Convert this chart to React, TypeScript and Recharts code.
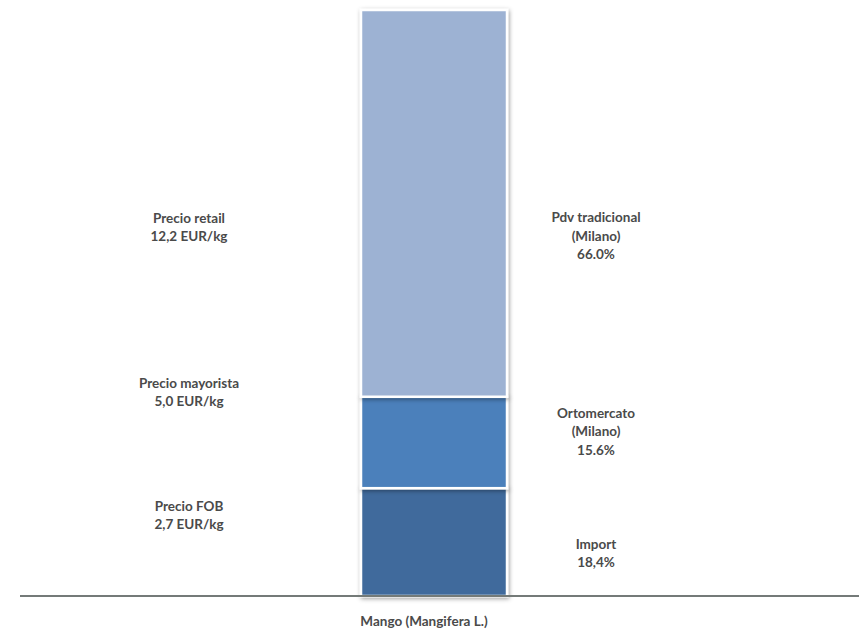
import React from 'react';
import { BarChart, Bar, XAxis, YAxis, LabelList } from 'recharts';

const categories = ['Mango (Mangifera L.)'];
const importShare = [18.4];
const ortomercatoShare = [15.6];
const pdvShare = [66.0];

const seriesNames = [['Import'], ['Ortomercato', '(Milano)'], ['Pdv tradicional', '(Milano)']];
const shareLabels = ['18,4%', '15.6%', '66.0%'];
const priceNames = ['Precio FOB', 'Precio mayorista', 'Precio retail'];
const priceValues = ['2,7 EUR/kg', '5,0 EUR/kg', '12,2 EUR/kg'];

const data = categories.map((c, i) => ({
  name: c,
  imp: importShare[i],
  orto: ortomercatoShare[i],
  pdv: pdvShare[i],
}));

const COLORS = ['#3f6b9c', '#4b80bb', '#9db2d3'];
const TEXT = '#4a4a4a';
const FONT = 'Lato, "Noto Sans", sans-serif';
const FS = 13.5;
const LINE = 18.5;
// vertical offsets of label blocks from the segment center (style only)
const RIGHT_DY = [11, -11, 32.5];
const LEFT_DY = [-27, -50, 24];
const RIGHT_DX = 89;
const LEFT_DX = -172;

const Block = ({ cx, cy, lines }: { cx: number; cy: number; lines: string[] }) => (
  <g>
    {lines.map((t, i) => (
      <text
        key={i}
        x={cx}
        y={cy + (i - (lines.length - 1) / 2) * LINE}
        dy="0.35em"
        textAnchor="middle"
        fill={TEXT}
        fontFamily={FONT}
        fontWeight={700}
        fontSize={FS}
      >
        {t}
      </text>
    ))}
  </g>
);

const makeLabel = (k: number) => (props: any) => {
  const { x, y, width, height } = props;
  const xx = Number(x), yy = Number(y), w = Number(width), h = Number(height);
  const mid = yy + h / 2;
  return (
    <g>
      <Block cx={xx + w + RIGHT_DX} cy={mid + RIGHT_DY[k]} lines={[...seriesNames[k], shareLabels[k]]} />
      <Block cx={xx + LEFT_DX} cy={mid + LEFT_DY[k]} lines={[priceNames[k], priceValues[k]]} />
    </g>
  );
};

const SegShape = (props: any) => {
  const { x, y, width, height, fill } = props;
  return (
    <g>
      <defs>
        <filter id="segShadow" x="-20%" y="-20%" width="140%" height="140%">
          <feDropShadow dx="1" dy="1.5" stdDeviation="2" floodColor="#000" floodOpacity="0.4" />
        </filter>
      </defs>
      <rect x={x} y={y} width={width} height={height} fill={fill} stroke="#ffffff" strokeWidth={2.5} filter="url(#segShadow)" />
    </g>
  );
};

const Tick = (props: any) => {
  const { x, y, payload } = props;
  return (
    <text x={Number(x) - 10} y={y} dy="0.71em" textAnchor="middle" fill={TEXT} fontFamily={FONT} fontWeight={700} fontSize={FS}>
      {payload.value}
    </text>
  );
};

export default function App() {
  return (
    <div style={{ position: 'absolute', left: 0, top: 0, background: '#fff' }}>
      <BarChart width={863} height={643} data={data} margin={{ top: 10, right: 4, left: 20, bottom: 17 }}>
        <YAxis hide domain={[0, 100]} />
        <XAxis
          dataKey="name"
          height={30}
          padding={{ left: 0, right: 11 }}
          axisLine={{ stroke: '#747a78', strokeWidth: 2 }}
          tickLine={false}
          tickMargin={14}
          tick={<Tick />}
        />
        <Bar dataKey="imp" stackId="a" fill={COLORS[0]} barSize={146} shape={<SegShape />} isAnimationActive={false}>
          <LabelList content={makeLabel(0)} />
        </Bar>
        <Bar dataKey="orto" stackId="a" fill={COLORS[1]} barSize={146} shape={<SegShape />} isAnimationActive={false}>
          <LabelList content={makeLabel(1)} />
        </Bar>
        <Bar dataKey="pdv" stackId="a" fill={COLORS[2]} barSize={146} shape={<SegShape />} isAnimationActive={false}>
          <LabelList content={makeLabel(2)} />
        </Bar>
      </BarChart>
    </div>
  );
}
